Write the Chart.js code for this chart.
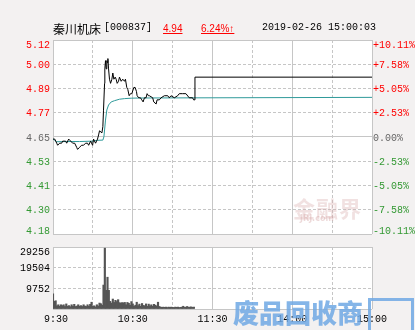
<!DOCTYPE html>
<html>
<head>
<meta charset="utf-8">
<script src="https://cdn.jsdelivr.net/npm/chart.js@4.4.0/dist/chart.umd.min.js"></script>
<style>
  html, body { margin: 0; padding: 0; background: #f3f1f1; }
  #wrap { position: relative; width: 415px; height: 330px; overflow: hidden; }
  canvas { position: absolute; left: 0; }
  #main { top: 0; }
  #vol { top: 231px; }
  .hd { position: absolute; top: 22px; line-height: 14px; white-space: pre; color: #000;
        font: 10px "Liberation Mono", monospace; }
  .cn { font: 12px "Noto Sans CJK SC", sans-serif; line-height: 14px; }
  .up { color: #ff0000; text-decoration: underline; font: 10px "Liberation Sans", sans-serif; line-height: 14px; }
  .wm1 { position: absolute; left: 293px; top: 191px; font: bold 22px "Noto Sans CJK SC", sans-serif;
         color: rgba(215, 170, 170, 0.35); letter-spacing: 1px; }
  .wm1s { position: absolute; left: 300px; top: 214px; font: bold 8px "DejaVu Sans", sans-serif;
          color: rgba(215, 170, 170, 0.45); }
  .wm2 { position: absolute; left: 233px; top: 297px; font: 900 26px "Noto Sans CJK SC", sans-serif;
         line-height: 30px; color: rgba(110, 168, 228, 0.85); }
  .wm2i { position: absolute; left: 368px; top: 298px; width: 40px; height: 36px;
          border: 3px solid rgba(110, 168, 228, 0.85); border-bottom: none; }
</style>
</head>
<body>
<div id="wrap">
  <canvas id="main" width="415" height="254"></canvas>
  <canvas id="vol" width="415" height="99"></canvas>

  <span class="hd cn" style="left:53px">秦川机床</span>
  <span class="hd" style="left:104px">[000837]</span>
  <span class="hd up" style="left:163px">4.94</span>
  <span class="hd up" style="left:201px">6.24%↑</span>
  <span class="hd" style="left:262px">2019-02-26 15:00:03</span>

  <div class="wm1">金融界</div>
  <div class="wm1s">JRJ.com</div>
  <div class="wm2">废品回收商</div>
  <div class="wm2i"></div>
</div>

<script>
(function(){
  'use strict';

  // price line: [minute since 9:30, price]
  var priceMinutes = [0, 1.3, 2.8, 3.5, 5, 6.5, 7.3, 9.5, 10.3, 11.8, 13.3, 14.8, 16.3, 17.8, 18.5, 20, 21.5, 23, 24.5, 26,
    26.8, 28.3, 29.8, 30.5, 32, 32.8, 33.5, 34.3, 35, 36.8, 37.5, 38, 38.8, 39, 39.5, 40, 40.5, 41, 41.3, 41.8,
    42.5, 43.3, 44.3, 45, 45.8, 46.8, 47.5, 48.3, 49.3, 50, 51.3, 52.5, 53.8, 54.5, 55.5, 56.3, 57.3, 58.3, 59.3, 60.8,
    61.8, 62.8, 63.3, 64.5, 65.8, 66.8, 67.8, 68.8, 70, 70.8, 71.8, 72.5, 75, 75.8, 77.6, 78.3, 80, 81.3, 83.8, 86.3,
    87.5, 88.8, 91.3, 93.8, 95, 97.5, 100, 102.5, 105, 105.8, 106.8, 106.8, 240];
  var priceValues = [4.64, 4.64, 4.62, 4.61, 4.62, 4.62, 4.63, 4.63, 4.62, 4.64, 4.63, 4.62, 4.62, 4.60, 4.59, 4.60, 4.61, 4.61, 4.62, 4.62,
    4.61, 4.63, 4.61, 4.64, 4.62, 4.63, 4.64, 4.66, 4.68, 4.67, 4.70, 4.78, 4.91, 4.98, 5.02, 4.98, 5.02, 5.01, 5.03, 4.98,
    4.93, 4.91, 4.93, 4.96, 4.93, 4.94, 4.93, 4.91, 4.92, 4.94, 4.92, 4.93, 4.92, 4.93, 4.89, 4.88, 4.85, 4.86, 4.86, 4.89,
    4.89, 4.87, 4.85, 4.84, 4.84, 4.83, 4.82, 4.84, 4.84, 4.86, 4.85, 4.85, 4.84, 4.82, 4.81, 4.83, 4.83, 4.84, 4.85, 4.85,
    4.84, 4.85, 4.84, 4.85, 4.86, 4.86, 4.86, 4.84, 4.84, 4.83, 4.83, 4.94, 4.94];

  // average price line
  var avgMinutes = [0, 1.3, 2.5, 10, 20, 30, 33.5, 37.5, 38.3, 38.8, 39.5, 40.5, 41.8, 43.8, 46.3, 50, 53.8, 58.8, 65, 240];
  var avgValues = [4.64, 4.635, 4.627, 4.628, 4.628, 4.630, 4.634, 4.635, 4.651, 4.684, 4.732, 4.781, 4.805, 4.820, 4.826,
    4.833, 4.836, 4.838, 4.839, 4.842];

  // volume per minute from 9:30
  var volumes = [7100, 3600, 3900, 1500, 2000, 1300, 2000, 1600, 2000, 1200,
    2400, 1300, 1600, 1100, 2000, 1300, 2200, 1200, 1400, 2000,
    1300, 1600, 1200, 2000, 1400, 1200, 2000, 1300, 2200, 3200,
    1300, 1500, 1000, 2000, 1400, 2800, 2500, 1800, 11300, 28700,
    8800, 15000, 8800, 3600, 2800, 4700, 3100, 4100, 3500, 4400,
    3000, 2800, 3000, 2900, 3100, 2000, 3100, 2700, 1800, 3500,
    2400, 1300, 1800, 3200, 1600, 2300, 1300, 2600, 1700, 1500,
    2400, 1300, 2300, 1500, 2000, 1300, 2200, 1800, 1400, 3200,
    1200, 900, 800, 900, 800, 900, 700, 900, 800, 900,
    800, 700, 900, 800, 900, 700, 800, 900, 1300, 800,
    900, 1200, 800, 900, 1000, 800, 900];

  var priceTickLabels = ['4.18', '4.30', '4.41', '4.53', '4.65', '4.77', '4.89', '5.00', '5.12'];
  var pctTickLabels = ['-10.11%', '-7.58%', '-5.05%', '-2.53%', '0.00%', '+2.53%', '+5.05%', '+7.58%', '+10.11%'];
  var volTickValues = [0, 9752, 19504, 29256];
  var timeTickMinutes = [0, 60, 120, 180, 240];
  var timeTickLabels = [' 9:30', '10:30', '11:30', '14:00', '15:00'];

  var priceMin = 4.18, priceMax = 5.12;
  var pctMin = -10.11, pctMax = 10.11;

  var RED = '#ff0000', GREEN = '#339933', GREY = '#666666';
  var GRID = '#c6c6c6';
  var DASH = [3, 2];
  var FONT = { family: '"Liberation Mono", monospace', size: 10, lineHeight: '8px' };

  Chart.defaults.animation = false;

  // white plot background
  var plotBg = {
    id: 'plotBg',
    beforeDraw: function(chart) {
      var a = chart.chartArea, ctx = chart.ctx;
      ctx.save();
      ctx.fillStyle = '#ffffff';
      ctx.fillRect(a.left, a.top, a.right - a.left, a.bottom - a.top);
      ctx.restore();
    }
  };

  // first / last label pushed inside the box
  function edgeLabel(text, i, n) {
    if (i === n - 1) return ['', text];
    if (i === 0) return [text, ''];
    return text;
  }

  function zip(xs, ys) {
    return xs.map(function(x, i) { return { x: x, y: ys[i] }; });
  }

  function timeAxis(showLabels, height) {
    return {
      type: 'linear', min: 0, max: 240, offset: false,
      afterBuildTicks: function(s) {
        var t = [];
        for (var v = 0; v <= 240; v += 30) t.push({ value: v });
        s.ticks = t;
      },
      afterFit: function(s) { s.height = height; },
      grid: { color: GRID, drawTicks: false, offset: false },
      border: {
        display: false,
        dash: function(ctx) { return ctx.tick && ctx.tick.value % 60 === 0 ? [] : DASH; }
      },
      ticks: {
        display: showLabels, autoSkip: false, maxRotation: 0, minRotation: 0, padding: 4,
        color: '#000000', font: { family: FONT.family, size: 10 },
        callback: function(v) {
          var k = timeTickMinutes.indexOf(v);
          return k < 0 ? '' : timeTickLabels[k];
        }
      }
    };
  }

  function initMain() {
    var mid = (priceTickLabels.length - 1) / 2;
    new Chart(document.getElementById('main'), {
      type: 'line',
      data: {
        datasets: [{
          data: zip(priceMinutes, priceValues),
          borderColor: '#000000', borderWidth: 1, pointRadius: 0, tension: 0, yAxisID: 'y'
        }, {
          data: zip(avgMinutes, avgValues),
          borderColor: '#2f9a9a', borderWidth: 1, pointRadius: 0, tension: 0, yAxisID: 'y'
        }]
      },
      options: {
        responsive: false,
        layout: { padding: { top: 40, bottom: 20, left: 0, right: 0 } },
        plugins: { legend: { display: false }, tooltip: { enabled: false } },
        scales: {
          x: timeAxis(false, 0),
          y: {
            position: 'left', min: priceMin, max: priceMax,
            afterBuildTicks: function(s) {
              s.ticks = priceTickLabels.map(function(l, i) {
                return { value: priceMin + i * (priceMax - priceMin) / (priceTickLabels.length - 1) };
              });
            },
            afterFit: function(s) { s.width = 53; },
            grid: { color: GRID, drawTicks: false },
            border: {
              display: false,
              dash: function(ctx) {
                var i = ctx.index;
                return (i === 0 || i === mid || i === priceTickLabels.length - 1) ? [] : DASH;
              }
            },
            ticks: {
              padding: 3, labelOffset: 1, font: FONT,
              color: function(ctx) { return ctx.index > mid ? RED : (ctx.index < mid ? GREEN : GREY); },
              callback: function(v, i) { return edgeLabel(priceTickLabels[i], i, priceTickLabels.length); }
            }
          },
          pct: {
            position: 'right', min: pctMin, max: pctMax,
            afterBuildTicks: function(s) {
              s.ticks = pctTickLabels.map(function(l, i) {
                return { value: pctMin + i * (pctMax - pctMin) / (pctTickLabels.length - 1) };
              });
            },
            afterFit: function(s) { s.width = 43; },
            grid: { display: false, drawTicks: false },
            border: { display: false },
            ticks: {
              padding: 1, labelOffset: 1, font: FONT,
              color: function(ctx) { return ctx.index > mid ? RED : (ctx.index < mid ? GREEN : GREY); },
              callback: function(v, i) { return edgeLabel(pctTickLabels[i], i, pctTickLabels.length); }
            }
          }
        }
      },
      plugins: [plotBg]
    });
  }

  function initVolume() {
    var bars = volumes.map(function(v, i) { return { x: i, y: v }; });
    var last = volTickValues.length - 1;
    new Chart(document.getElementById('vol'), {
      type: 'bar',
      data: {
        datasets: [{ data: bars, backgroundColor: '#555555', barThickness: 1.5, borderWidth: 0 }]
      },
      options: {
        responsive: false,
        layout: { padding: { top: 16, bottom: 0, left: 0, right: 43 } },
        plugins: { legend: { display: false }, tooltip: { enabled: false } },
        scales: {
          x: timeAxis(true, 21),
          y: {
            position: 'left', min: 0, max: volTickValues[last],
            afterBuildTicks: function(s) {
              s.ticks = volTickValues.map(function(v) { return { value: v }; });
            },
            afterFit: function(s) { s.width = 53; },
            grid: { color: GRID, drawTicks: false },
            border: {
              display: false,
              dash: function(ctx) { return (ctx.index === 0 || ctx.index === last) ? [] : DASH; }
            },
            ticks: {
              padding: 3, labelOffset: 1, font: FONT, color: '#000000',
              callback: function(v, i) {
                if (i === 0) return '';
                return i === last ? ['', String(v)] : String(v);
              }
            }
          }
        }
      },
      plugins: [plotBg]
    });
  }

  initMain();
  initVolume();

}());
</script>
</body>
</html>
